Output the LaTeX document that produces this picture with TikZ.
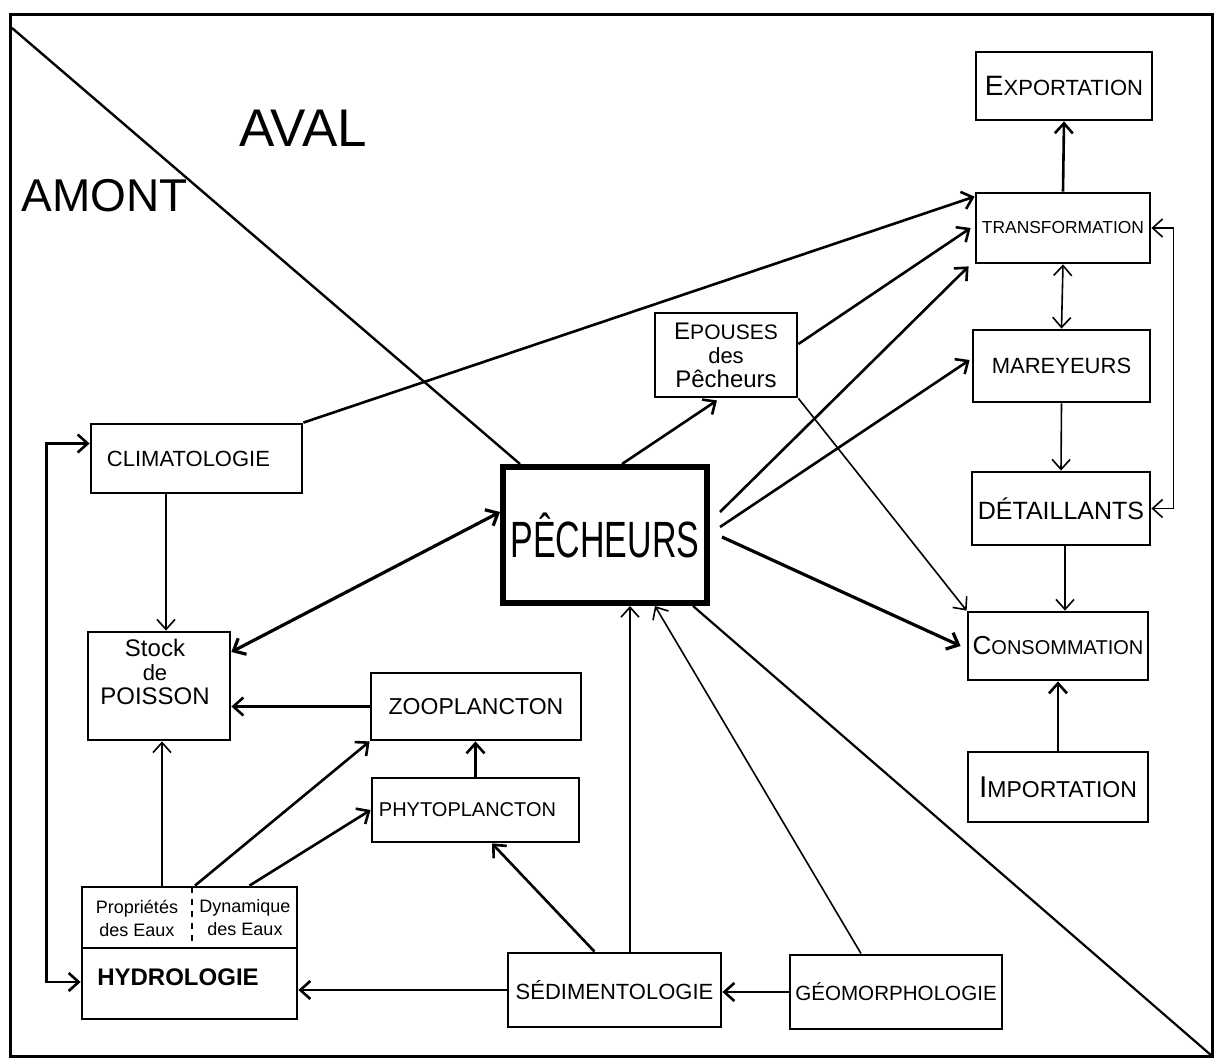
\documentclass[tikz,border=0pt]{standalone}
\usepackage{fontspec}
\setmainfont{Liberation Sans}
\usetikzlibrary{arrows.meta,fit,calc}
\newcommand\fsz[1]{\fontsize{#1}{#1}\selectfont}
\begin{document}
\begin{tikzpicture}[x=0.5pt,y=-0.5pt,
  box/.style={draw, line width=1.4pt, inner sep=0pt},
  thk/.style={line width=1.3pt},
  thn/.style={line width=0.8pt},
  arr/.style={-{Straight Barb[length=5pt,width=9pt]}},
  darr/.style={{Straight Barb[length=5pt,width=9pt]}-{Straight Barb[length=5pt,width=9pt]}}]
\useasboundingbox (0,0) rectangle (1222,1060);
\fill[white] (0,0) rectangle (1222,1060);
% frame
\coordinate (ftl) at (10,14);
\coordinate (br) at (1212,1056);
\coordinate (tl) at (12,28);
\draw[line width=1.5pt] (ftl) rectangle (br);
% titles
\node[font=\fsz{26.5}] (aval) at (303,128) {AVAL};
\node[font=\fsz{23}] (amont) at (105,196) {AMONT};
% boxes
\node[box, fit={(976,52)(1152,120)}, label={center:{\fsz{14}E\fsz{11}XPORTATION}}] (exp) {};
\node[box, fit={(976,193)(1150,263)}, label={center:{\fsz{8.7}TRANSFORMATION}}] (trans) {};
\node[box, fit={(973,330)(1150,402)}, label={center:{\fsz{11}MAREYEURS}}] (mar) {};
\node[box, fit={(972,472)(1150,545)}, label={center:{\fsz{12.5}DÉTAILLANTS}}] (det) {};
\node[box, fit={(968,612)(1148,680)}, label={center:{\fsz{13}C\fsz{10}ONSOMMATION}}] (cons) {};
\node[box, fit={(968,752)(1148,822)}, label={center:{\fsz{15}I\fsz{11.5}MPORTATION}}] (imp) {};
\node[box, fit={(655,313)(797,397)}, label={[align=center]center:{\fsz{12}E\fsz{10.5}POUSES\\\fsz{11}des\\\fsz{12}Pêcheurs}}] (ep) {};
\node[box, fit={(91,424)(302,493)}, label={[xshift=-4pt]center:{\fsz{11}CLIMATOLOGIE}}] (clim) {};
\node[box, line width=3pt, fit={(503,467)(707,603)}, label={center:{\scalebox{1}[1.5]{\fsz{17}PÊCHEURS}}}] (pech) {};
\node[box, fit={(88,632)(230,740)}, label={[align=center,yshift=7pt,xshift=-2pt]center:{\fsz{12}Stock\\\fsz{11}de\\\fsz{12}POISSON}}] (stock) {};
\node[box, fit={(371,673)(581,740)}, label={center:{\fsz{11.5}ZOOPLANCTON}}] (zoo) {};
\node[box, fit={(372,778)(579,842)}, label={[xshift=-4pt]center:{\fsz{10}PHYTOPLANCTON}}] (phy) {};
\node[box, fit={(82,887)(297,1019)}] (hyd) {};
\node[box, fit={(508,953)(721,1027)}, label={center:{\fsz{11}SÉDIMENTOLOGIE}}] (sed) {};
\node[box, fit={(790,955)(1002,1029)}, label={center:{\fsz{10.3}GÉOMORPHOLOGIE}}] (geo) {};
% hydrologie internals
\draw[line width=1.4pt] (82,948) -- (297,948);
\draw[line width=0.9pt, dashed] (192,887) -- (192,948);
\node[font=\bfseries\fsz{12}] (hydt) at (178,977) {HYDROLOGIE};
\node[align=center, font={\fontsize{9}{11.5}\selectfont}] (prop) at (137,918) {Propriétés\\des Eaux};
\node[align=center, font={\fontsize{9}{11.5}\selectfont}] (dyn) at (245,918) {Dynamique\\des Eaux};
% diagonals
\draw[line width=1.2pt] (tl) -- ([xshift=10pt]pech.north west);
\draw[line width=1.1pt] ([xshift=-8.5pt]pech.south east) -- (br);
% right column
\draw[thk,arr] (trans.north) -- (exp.south);
\draw[thn,darr] (trans.south) -- (mar.north);
\draw[thn,arr] (mar.south) -- (det.north);
\coordinate (d1) at ([xshift=2pt]det.south);
\draw[thn,arr] (d1) -- (d1 |- cons.north);
\draw[thk,arr] (imp.north) -- (cons.south);
\draw[thn,darr] (trans.east) -- ++(22,0) |- (det.east);
% to the right
\draw[thk,arr] (clim.north east) -- ([yshift=-2.5pt]trans.north west);
\draw[thk,arr] ([yshift=5.5pt]ep.east) -- ([xshift=-2pt]trans.west);
\draw[thk,arr] ([xshift=5pt,yshift=11.5pt]pech.east) -- ([xshift=-3pt,yshift=-1pt]trans.south west);
\draw[thk,arr] ([xshift=5pt,yshift=4pt]pech.east) -- ([xshift=-1pt,yshift=3pt]mar.west);
\draw[line width=1.6pt,arr] ([xshift=6pt,yshift=-1pt]pech.east) -- ([xshift=-3pt]cons.west);
\draw[thk,arr] ([xshift=8.5pt]pech.north) -- ([xshift=-4.5pt,yshift=-1pt]ep.south);
\draw[thn,arr] (ep.south east) -- (cons.north west);
% left part
\draw[line width=1.6pt,darr] ([yshift=17pt]stock.east) -- ([yshift=11.5pt]pech.west);
\coordinate (c1) at ([xshift=-15.25pt]clim.south);
\draw[thn,arr] (c1) -- (c1 |- stock.north);
\draw[thk,arr] (zoo.west) -- (zoo.west -| stock.east);
\draw[thk,arr] (phy.north) -- (phy.north |- zoo.south);
\coordinate (h1) at ([xshift=-13.75pt]hyd.north);
\draw[thn,arr] (h1) -- (h1 |- stock.south);
\draw[thk,arr] ([xshift=2.75pt]hyd.north) -- (zoo.south west);
\draw[thk,arr] ([xshift=30pt]hyd.north) -- (phy.west);
\draw[thk,arr] ([xshift=-10pt]sed.north) -- ([xshift=8.25pt]phy.south);
\coordinate (s1) at ([xshift=7.75pt]sed.north);
\draw[thn,arr] (s1) -- (s1 |- pech.south);
\draw[thn,arr] ([xshift=-17.5pt]geo.north) -- ([xshift=25pt]pech.south);
\draw[thk,arr] (geo.west) -- (geo.west -| sed.east);
\draw[thk,arr] (sed.west) -- (sed.west -| hyd.east);
\draw[thk,darr] ([yshift=7.5pt]clim.west) -- ++(-43,0) |- ([yshift=-14.5pt]hyd.west);
\end{tikzpicture}
\end{document}
